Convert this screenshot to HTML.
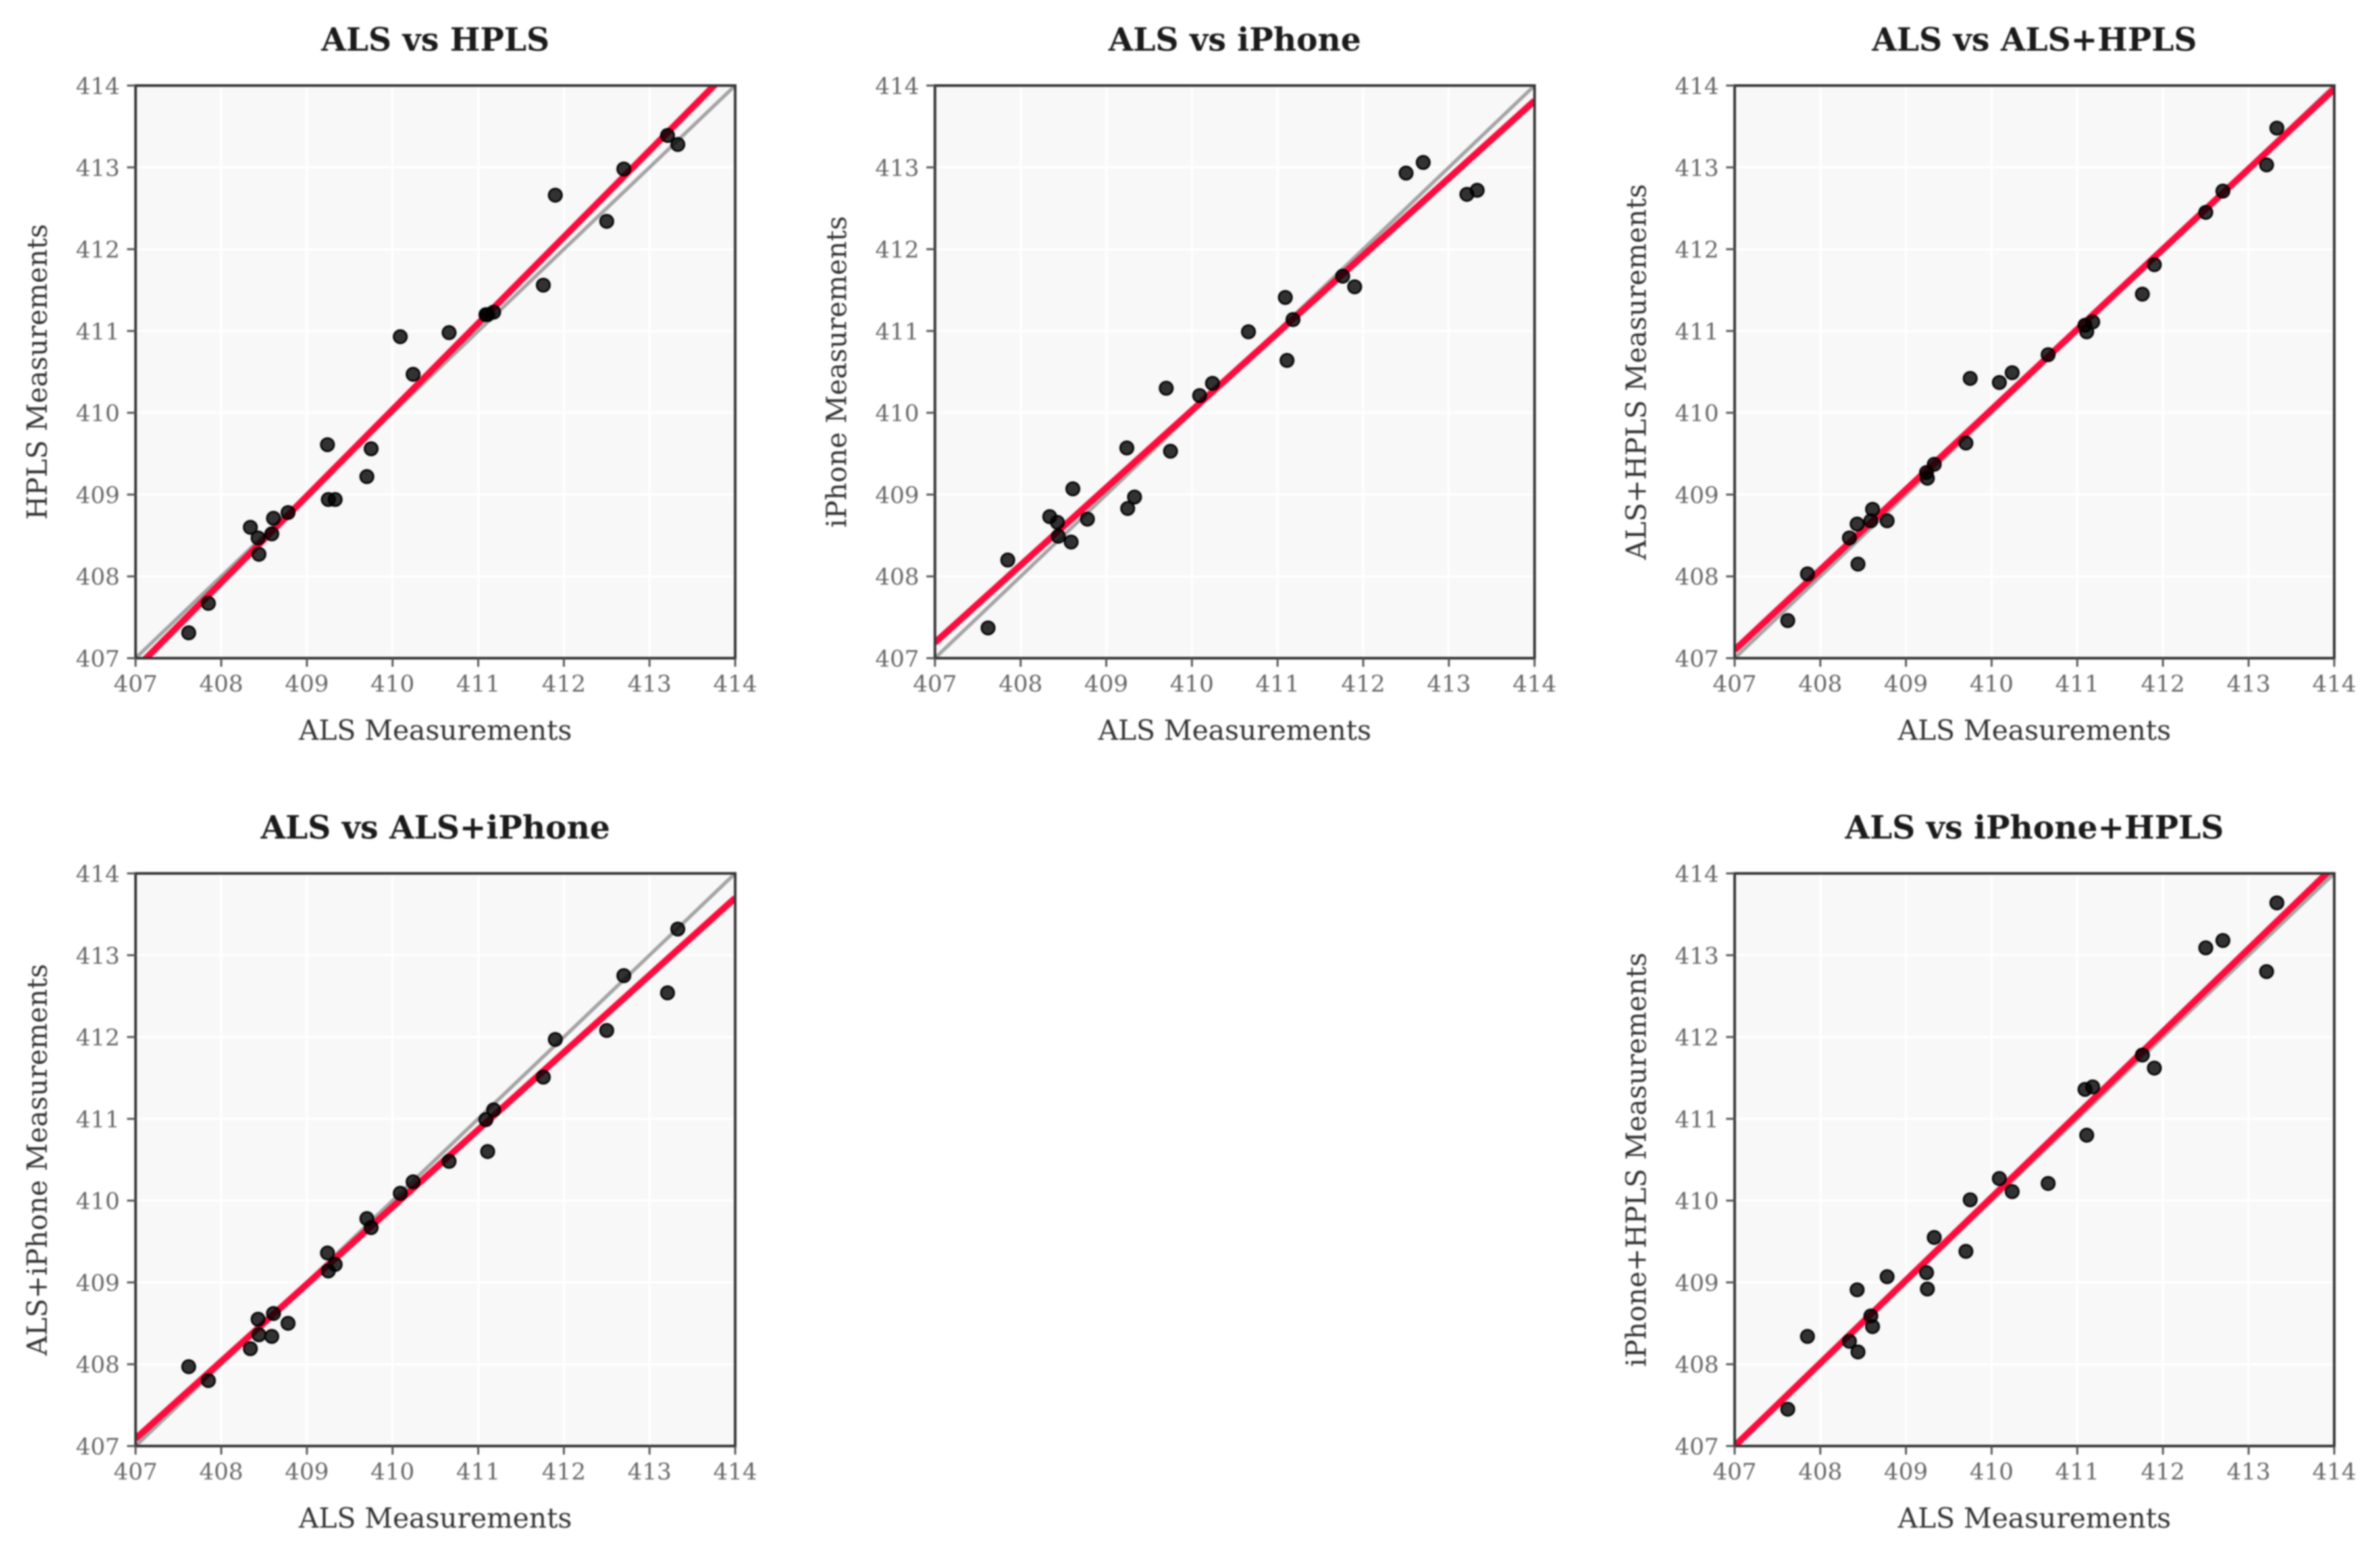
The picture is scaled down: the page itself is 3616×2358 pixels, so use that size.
<!DOCTYPE html>
<html lang="en">
<head>
<meta charset="utf-8">
<title>ALS measurement comparison scatter plots</title>
<style>
  html, body { margin: 0; padding: 0; background: #ffffff; width: 3616px; height: 2358px; overflow: hidden; }
  svg { display: block; filter: blur(1px); }
  text { font-family: "DejaVu Serif", "Liberation Serif", serif; }
</style>
</head>
<body>
<svg id="figure" width="3616" height="2358" viewBox="0 0 3616 2358" xmlns="http://www.w3.org/2000/svg"></svg>
<script>
const tickValues = [407, 408, 409, 410, 411, 412, 413, 414];
const axisMin = 407;
const axisMax = 414;

const alsValues = [407.62, 407.85, 408.34, 408.43, 408.44, 408.59, 408.61, 408.78, 409.24, 409.25, 409.33, 409.70, 409.75, 410.09, 410.24, 410.66, 411.09, 411.11, 411.18, 411.76, 411.90, 412.50, 412.70, 413.21, 413.33];

const hplsValues = [407.31, 407.67, 408.60, 408.47, 408.27, 408.52, 408.71, 408.78, 409.61, 408.94, 408.94, 409.22, 409.56, 410.93, 410.47, 410.98, 411.20, 411.20, 411.23, 411.56, 412.66, 412.34, 412.98, 413.39, 413.28];
const iphoneValues = [407.37, 408.20, 408.73, 408.66, 408.49, 408.42, 409.07, 408.70, 409.57, 408.83, 408.97, 410.30, 409.53, 410.21, 410.36, 410.99, 411.41, 410.64, 411.14, 411.67, 411.54, 412.93, 413.06, 412.67, 412.72];
const alsHplsValues = [407.46, 408.03, 408.47, 408.64, 408.15, 408.68, 408.82, 408.68, 409.27, 409.20, 409.37, 409.63, 410.42, 410.37, 410.49, 410.71, 411.07, 410.99, 411.11, 411.45, 411.81, 412.45, 412.71, 413.03, 413.48];
const alsIphoneValues = [407.97, 407.80, 408.19, 408.55, 408.36, 408.34, 408.62, 408.50, 409.36, 409.14, 409.22, 409.78, 409.67, 410.09, 410.23, 410.48, 410.99, 410.60, 411.11, 411.51, 411.97, 412.08, 412.75, 412.54, 413.32];
const iphoneHplsValues = [407.45, 408.34, 408.28, 408.91, 408.15, 408.59, 408.46, 409.07, 409.12, 408.92, 409.55, 409.38, 410.01, 410.27, 410.11, 410.21, 411.36, 410.80, 411.39, 411.78, 411.62, 413.09, 413.18, 412.80, 413.64];

/* Fit line value at x = 407 and at x = 414 */
const hplsFit = [406.87, 414.26];
const iphoneFit = [407.19, 413.815];
const alsHplsFit = [407.10, 413.96];
const alsIphoneFit = [407.09, 413.70];
const iphoneHplsFit = [407.0, 414.09];

const panels = [
  { slug: 'als-vs-hpls', title: 'ALS vs HPLS', yLabel: 'HPLS Measurements', ys: hplsValues, fit: hplsFit, left: 206, top: 130 },
  { slug: 'als-vs-iphone', title: 'ALS vs iPhone', yLabel: 'iPhone Measurements', ys: iphoneValues, fit: iphoneFit, left: 1420.5, top: 130 },
  { slug: 'als-vs-als-hpls', title: 'ALS vs ALS+HPLS', yLabel: 'ALS+HPLS Measurements', ys: alsHplsValues, fit: alsHplsFit, left: 2635.5, top: 130 },
  { slug: 'als-vs-als-iphone', title: 'ALS vs ALS+iPhone', yLabel: 'ALS+iPhone Measurements', ys: alsIphoneValues, fit: alsIphoneFit, left: 206, top: 1327 },
  { slug: 'als-vs-iphone-hpls', title: 'ALS vs iPhone+HPLS', yLabel: 'iPhone+HPLS Measurements', ys: iphoneHplsValues, fit: iphoneHplsFit, left: 2635.5, top: 1327 }
];

const PLOT_W = 911;
const PLOT_H = 870;
const NS = 'http://www.w3.org/2000/svg';
const figure = document.getElementById('figure');

function make(tag, parent, attrs) {
  const el = document.createElementNS(NS, tag);
  for (const k in attrs) el.setAttribute(k, attrs[k]);
  parent.appendChild(el);
  return el;
}

function xAxisFn(p) {
  return v => p.left + (v - axisMin) / (axisMax - axisMin) * PLOT_W;
}
function yAxisFn(p) {
  return v => p.top + PLOT_H - (v - axisMin) / (axisMax - axisMin) * PLOT_H;
}

panels.forEach((p) => {
  const sx = xAxisFn(p);
  const sy = yAxisFn(p);

  const g = make('g', figure, {});
  
  

  const clipId = 'clip-' + p.slug;
  const defs = make('defs', g, {});
  const clip = make('clipPath', defs, { id: clipId });
  make('rect', clip, { x: p.left, y: p.top, width: PLOT_W, height: PLOT_H });

  const bg = make('rect', g, { x: p.left, y: p.top, width: PLOT_W, height: PLOT_H, fill: '#f8f8f8' });
  
  

  tickValues.forEach((t) => {
    const vGrid = make('line', g, { x1: sx(t), x2: sx(t), y1: p.top, y2: p.top + PLOT_H, stroke: '#ffffff', 'stroke-width': 3.5 });
    
    

    const hGrid = make('line', g, { x1: p.left, x2: p.left + PLOT_W, y1: sy(t), y2: sy(t), stroke: '#ffffff', 'stroke-width': 3.5 });
    
    
  });

  const marks = make('g', g, { 'clip-path': 'url(#' + clipId + ')' });
  
  

  const identity = make('line', marks, { x1: sx(axisMin), y1: sy(axisMin), x2: sx(axisMax), y2: sy(axisMax), stroke: '#a4a4a4', 'stroke-width': 5.5 });
  
  

  const fitLine = make('line', marks, { x1: sx(axisMin), y1: sy(p.fit[0]), x2: sx(axisMax), y2: sy(p.fit[1]), stroke: '#ff0a3c', 'stroke-width': 10 });
  
  

  alsValues.forEach((xv, i) => {
    const dot = make('circle', marks, { cx: sx(xv), cy: sy(p.ys[i]), r: 10, fill: 'rgba(0,0,0,0.8)', stroke: '#000000', 'stroke-width': 2.6 });
    
    
  });

  const frame = make('rect', g, { x: p.left, y: p.top, width: PLOT_W, height: PLOT_H, fill: 'none', stroke: '#333333', 'stroke-width': 4 });
  
  

  tickValues.forEach((t) => {
    const xTick = make('line', g, { x1: sx(t), x2: sx(t), y1: p.top + PLOT_H, y2: p.top + PLOT_H + 13, stroke: '#555555', 'stroke-width': 3 });
    
    

    const yTick = make('line', g, { x1: p.left - 13, x2: p.left, y1: sy(t), y2: sy(t), stroke: '#555555', 'stroke-width': 3 });
    
    

    const xText = make('text', g, { x: sx(t), y: p.top + PLOT_H + 51, 'text-anchor': 'middle', 'font-size': 35, fill: '#666666' });
    xText.textContent = String(t);
    
    

    const yText = make('text', g, { x: p.left - 24, y: sy(t) + 13, 'text-anchor': 'end', 'font-size': 35, fill: '#666666' });
    yText.textContent = String(t);
    
    
  });

  const cx = p.left + PLOT_W / 2;
  const cy = p.top + PLOT_H / 2;

  const title = make('text', g, { x: cx, y: p.top - 53, 'text-anchor': 'middle', 'font-size': 48.4, 'font-weight': 'bold', fill: '#1a1a1a' });
  title.textContent = p.title;
  
  

  const xTitle = make('text', g, { x: cx, y: p.top + PLOT_H + 124, 'text-anchor': 'middle', 'font-size': 41.8, fill: '#333333' });
  xTitle.textContent = 'ALS Measurements';
  
  

  const yBase = p.left - 135;
  const yTitle = make('text', g, { x: yBase, y: cy, 'text-anchor': 'middle', 'font-size': 41.8, fill: '#333333', transform: 'rotate(-90 ' + yBase + ' ' + cy + ')' });
  yTitle.textContent = p.yLabel;
  
  
});
</script>
</body>
</html>
